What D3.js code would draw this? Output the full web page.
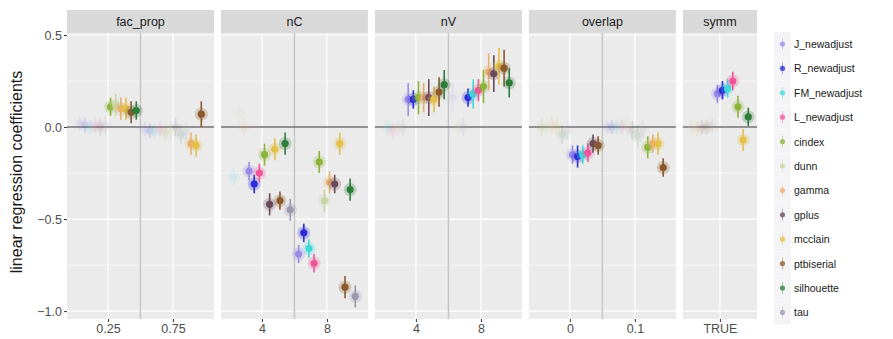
<!DOCTYPE html>
<html>
<head>
<meta charset="utf-8">
<script src="https://cdn.jsdelivr.net/npm/d3@7"></script>
<style>
  body { margin: 0; background: #fff; }
  text { font-family: "Liberation Sans", Arial, sans-serif; }
</style>
</head>
<body>
<svg id="chart" width="893" height="339"></svg>
<script>
// methods, in legend order
const methods = ["J_newadjust", "R_newadjust", "FM_newadjust", "L_newadjust", "cindex", "dunn",
  "gamma", "gplus", "mcclain", "ptbiserial", "silhouette", "tau"];
const methodColors = ["#9a8ce6", "#2b2bd9", "#3fd9d9", "#f0559a", "#8db33a", "#c9d6a6",
  "#e8b070", "#6b4a5a", "#e3c04a", "#8a5a2e", "#2e7d3a", "#9c98b0"];

const facets = ["fac_prop", "nC", "nV", "overlap", "symm"];
const facetLevels = [["0.25", "0.75"], ["4", "8"], ["4", "8"], ["0", "0.1"], ["TRUE"]];

const yTicks = [-1.0, -0.5, 0.0, 0.5];
const yMinor = [-0.75, -0.25, 0.25];

// [estimate, ci half width, significant] per method
const fac_prop_025 = [[0.02,0.04,0],[0.01,0.04,0],[0.00,0.04,0],[0.01,0.04,0],[0.11,0.05,1],[0.12,0.06,1],
  [0.10,0.06,1],[0.00,0.05,0],[0.10,0.06,1],[0.08,0.06,1],[0.09,0.05,1],[0.01,0.05,0]];
const fac_prop_075 = [[-0.01,0.04,0],[-0.02,0.04,0],[-0.02,0.04,0],[-0.01,0.04,0],[-0.03,0.05,0],[-0.02,0.05,0],
  [-0.09,0.06,1],[0.00,0.05,0],[-0.10,0.06,1],[0.07,0.07,1],[-0.04,0.05,0],[-0.02,0.05,0]];
const nC_4 = [[-0.24,0.05,1],[-0.31,0.05,1],[-0.27,0.05,0],[-0.25,0.05,1],[-0.15,0.06,1],[0.07,0.06,0],
  [0.00,0.05,0],[-0.42,0.06,1],[-0.12,0.06,1],[-0.40,0.05,1],[-0.09,0.06,1],[-0.45,0.06,1]];
const nC_8 = [[-0.69,0.05,1],[-0.575,0.05,1],[-0.66,0.05,1],[-0.74,0.05,1],[-0.19,0.06,1],[-0.40,0.06,1],
  [-0.30,0.06,1],[-0.31,0.05,1],[-0.09,0.06,1],[-0.87,0.06,1],[-0.34,0.06,1],[-0.92,0.06,1]];
const nV_4 = [[0.15,0.09,1],[0.15,0.05,1],[0.00,0.04,0],[-0.02,0.04,0],[0.16,0.09,1],[0.00,0.05,0],
  [0.16,0.08,1],[0.16,0.10,1],[0.15,0.07,1],[0.19,0.08,1],[0.23,0.08,1],[0.00,0.05,0]];
const nV_8 = [[0.16,0.08,0],[0.16,0.05,1],[0.18,0.08,1],[0.20,0.06,1],[0.22,0.09,1],[0.00,0.05,0],
  [0.30,0.10,1],[0.29,0.10,1],[0.33,0.10,1],[0.32,0.10,1],[0.24,0.08,1],[0.00,0.05,0]];
const overlap_0 = [[-0.15,0.05,1],[-0.16,0.06,1],[-0.15,0.05,1],[-0.14,0.05,1],[0.00,0.05,0],[0.00,0.05,0],
  [0.01,0.05,0],[-0.09,0.05,1],[0.00,0.05,0],[-0.10,0.05,1],[-0.04,0.05,0],[-0.02,0.05,0]];
const overlap_01 = [[0.00,0.04,0],[0.00,0.04,0],[0.00,0.04,0],[0.00,0.04,0],[-0.11,0.06,1],[0.02,0.06,0],
  [-0.09,0.05,1],[-0.02,0.05,0],[-0.09,0.06,1],[-0.22,0.05,1],[-0.05,0.06,0],[-0.01,0.05,0]];
const symm_true = [[0.18,0.05,1],[0.20,0.05,1],[0.21,0.05,1],[0.25,0.05,1],[0.11,0.06,1],[0.00,0.04,0],
  [-0.01,0.04,0],[0.00,0.04,0],[-0.07,0.06,1],[0.00,0.04,0],[0.055,0.05,1],[0.01,0.04,0]];

const groupData = [[fac_prop_025, fac_prop_075], [nC_4, nC_8], [nV_4, nV_8], [overlap_0, overlap_01], [symm_true]];

// layout
const panelLeft = 67, panelRight = 757, panelGap = 7;
const panelTop = 33, panelBottom = 319, stripTop = 10;
const dodgeWidth = 0.95;
// discrete axis padding (in level units) for one-level and multi-level panels
const padOne = 0.57, padMany = 0.63;

const svg = d3.select("#chart");

const pads = facetLevels.map(l => l.length > 1 ? padMany : padOne);
const unitCount = facetLevels.map((l, i) => l.length - 1 + 2 * pads[i]);
const unitPx = (panelRight - panelLeft - panelGap * (facets.length - 1)) / d3.sum(unitCount);

const y = d3.scaleLinear().domain([-1.043, 0.511]).range([panelBottom, panelTop]);

// y axis title
svg.append("text")
  .attr("transform", "translate(16," + 172 + ") rotate(-90)")
  .attr("text-anchor", "middle")
  .attr("dominant-baseline", "central")
  .style("font-size", "16px")
  .style("fill", "#1a1a1a")
  .text("linear regression coefficients");

// y axis
const yAxis = d3.axisLeft(y).tickValues(yTicks).tickSize(3).tickPadding(2)
  .tickFormat(d => d3.format(".1f")(d).replace("-", "\u2212"));
const yg = svg.append("g").attr("transform", "translate(" + panelLeft + ",0)").call(yAxis);
yg.select(".domain").remove();
yg.selectAll("line").attr("stroke", "#333").attr("stroke-width", 1);
yg.selectAll("text").style("font-size", "12.5px").style("fill", "#4d4d4d");

let left = panelLeft;
facets.forEach(function(facet, fi) {
  const levels = facetLevels[fi];
  const w = unitCount[fi] * unitPx;
  const x = d3.scaleLinear().domain([1 - pads[fi], levels.length + pads[fi]]).range([left, left + w]);

  const g = svg.append("g");
  // panel background
  g.append("rect").attr("x", left).attr("y", panelTop).attr("width", w)
    .attr("height", panelBottom - panelTop).attr("fill", "#ebebeb");
  // grid
  g.selectAll(".ymin").data(yMinor).enter().append("line")
    .attr("x1", left).attr("x2", left + w).attr("y1", d => y(d)).attr("y2", d => y(d))
    .attr("stroke", "#fff").attr("stroke-width", 0.6);
  g.selectAll(".ymaj").data(yTicks).enter().append("line")
    .attr("x1", left).attr("x2", left + w).attr("y1", d => y(d)).attr("y2", d => y(d))
    .attr("stroke", "#fff").attr("stroke-width", 1.2);
  g.selectAll(".xmaj").data(levels).enter().append("line")
    .attr("x1", (d, i) => x(i + 1)).attr("x2", (d, i) => x(i + 1))
    .attr("y1", panelTop).attr("y2", panelBottom)
    .attr("stroke", "#fff").attr("stroke-width", 1.2);
  // separators between levels
  g.selectAll(".sep").data(d3.range(1, levels.length)).enter().append("line")
    .attr("x1", d => x(d + 0.5)).attr("x2", d => x(d + 0.5))
    .attr("y1", panelTop).attr("y2", panelBottom)
    .attr("stroke", "#c4c4c4").attr("stroke-width", 1.4);
  // zero line
  g.append("line").attr("x1", left).attr("x2", left + w).attr("y1", y(0)).attr("y2", y(0))
    .attr("stroke", "#6e6e6e").attr("stroke-width", 1.6);

  // strip
  g.append("rect").attr("x", left).attr("y", stripTop).attr("width", w)
    .attr("height", panelTop - stripTop).attr("fill", "#d9d9d9");
  g.append("text").attr("x", left + w / 2).attr("y", (stripTop + panelTop) / 2)
    .attr("text-anchor", "middle").attr("dominant-baseline", "central")
    .style("font-size", "12.5px").style("fill", "#1a1a1a").text(facet);

  // x axis
  const xAxis = d3.axisBottom(x).tickValues(levels.map((d, i) => i + 1))
    .tickFormat((d, i) => levels[i]).tickSize(3).tickPadding(2);
  const xg = svg.append("g").attr("transform", "translate(0," + panelBottom + ")").call(xAxis);
  xg.select(".domain").remove();
  xg.selectAll("line").attr("stroke", "#333");
  xg.selectAll("text").style("font-size", "12.5px").style("fill", "#4d4d4d");

  // points with confidence intervals, dodged within level: non-significant first, then by method
  const rows = [];
  groupData[fi].forEach(function(vals, li) {
    const lv = vals.map((v, mi) => ({ level: li + 1, method: mi, est: v[0], hw: v[1], sig: v[2] }));
    lv.sort((a, b) => (a.sig - b.sig) || (a.method - b.method));
    lv.forEach((d, k) => { d.slot = k; rows.push(d); });
  });
  rows.sort((a, b) => a.sig - b.sig);
  const step = dodgeWidth / methods.length;
  const px = d => x(d.level - dodgeWidth / 2 + step * (d.slot + 0.5));

  const pts = g.selectAll(".pt").data(rows).enter().append("g")
    .attr("opacity", d => d.sig ? 1 : 0.14);
  pts.append("line")
    .attr("x1", px).attr("x2", px)
    .attr("y1", d => y(d.est - d.hw)).attr("y2", d => y(d.est + d.hw))
    .attr("stroke", d => methodColors[d.method]).attr("stroke-width", 1.6);
  pts.append("circle").attr("cx", px).attr("cy", d => y(d.est)).attr("r", 6.5)
    .attr("fill", d => methodColors[d.method]).attr("opacity", 0.25);
  pts.append("circle").attr("cx", px).attr("cy", d => y(d.est)).attr("r", 3.6)
    .attr("fill", d => methodColors[d.method]);

  left += w + panelGap;
});

// legend
const legend = svg.append("g").attr("transform", "translate(774,32)");
const item = legend.selectAll(".item").data(methods).enter().append("g")
  .attr("transform", (d, i) => "translate(0," + (i * 24.4) + ")");
item.append("rect").attr("width", 17).attr("height", 24).attr("fill", "#f4f4f6");
item.append("line").attr("x1", 8.5).attr("x2", 8.5).attr("y1", 6).attr("y2", 18)
  .attr("stroke", (d, i) => methodColors[i]).attr("stroke-width", 1).attr("opacity", 0.4);
item.append("circle").attr("cx", 8.5).attr("cy", 12).attr("r", 2.6)
  .attr("fill", (d, i) => methodColors[i]).attr("opacity", 0.75);
item.append("text").attr("x", 20).attr("y", 12).attr("dominant-baseline", "central")
  .style("font-size", "10.5px").style("fill", "#1a1a1a").text(d => d);
</script>
</body>
</html>
